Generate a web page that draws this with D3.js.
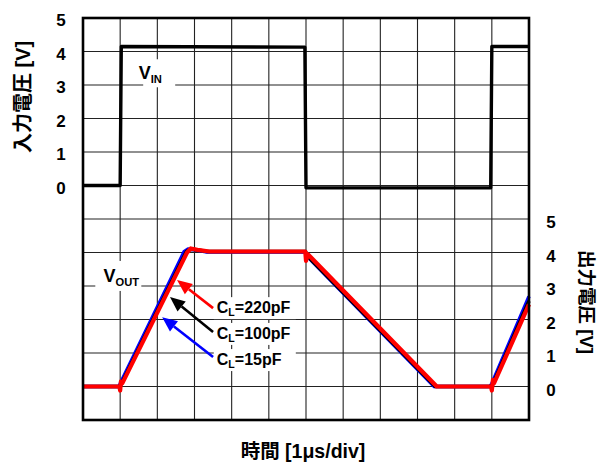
<!DOCTYPE html>
<html><head><meta charset="utf-8">
<script src="https://cdn.jsdelivr.net/npm/d3@7"></script>
<style>
body{margin:0;background:#fff;}
svg{display:block;}
text{font-family:"Liberation Sans",Arial,"Noto Sans CJK JP",sans-serif;font-weight:bold;fill:#000;}
</style></head>
<body><svg id="c" width="601" height="464"></svg>
<script>
// ---- data ----
const inTickLabels = [0, 1, 2, 3, 4, 5];
const outTickLabels = [0, 1, 2, 3, 4, 5];
const vinT = [0, 1.0, 1.03, 5.97, 6.0, 10.97, 11.0, 12];
const vinV = [0, 0, 4.15, 4.13, -0.07, -0.07, 4.15, 4.15];
const v15T = [0, 0.97, 1.0, 2.72, 2.82, 3.0, 3.3, 5.98, 6.02, 9.45, 10.95, 11.0, 12];
const v15V = [0, 0, 0.08, 4.02, 4.1, 4.08, 4.02, 4.02, 3.9, 0, 0, 0.08, 2.69];
const v100T = [0, 0.98, 1.02, 2.78, 2.88, 3.05, 3.35, 5.99, 6.03, 9.48, 10.97, 11.02, 12];
const v100V = [0, 0, 0.05, 4.02, 4.1, 4.08, 4.03, 4.03, 3.9, 0, 0, 0.05, 2.55];
const v220T = [0, 0.98, 1.0, 1.02, 1.06, 2.8, 2.9, 3.08, 3.4, 5.98, 6.0, 6.05, 9.52, 10.98, 11.0, 11.03, 11.06, 12];
const v220V = [0, 0, -0.12, 0.15, 0.1, 4.0, 4.12, 4.08, 4.03, 4.03, 3.75, 3.95, 0, 0, -0.12, 0.2, 0.1, 2.45];
const seriesNames = ["15pF", "100pF", "220pF"];
const seriesColors = ["#0000ff", "#000000", "#ff0000"];

// ---- layout ----
const L = 83, R = 529, T = 18, B = 420;
const svg = d3.select("#c");
const x = d3.scaleLinear().domain([0, 12]).range([L, R]);
const yIn = d3.scaleLinear().domain([-7, 5]).range([B, T]);
const yOut = d3.scaleLinear().domain([-1, 11]).range([B, T]);

// grid
const g = svg.append("g");
g.selectAll("line.v").data(d3.range(1, 12)).join("line")
  .attr("x1", d => x(d)).attr("x2", d => x(d)).attr("y1", T).attr("y2", B)
  .attr("stroke", "#222").attr("stroke-width", 1.1);
g.selectAll("line.h").data(d3.range(0, 11)).join("line")
  .attr("y1", d => yOut(d)).attr("y2", d => yOut(d)).attr("x1", L).attr("x2", R)
  .attr("stroke", "#222").attr("stroke-width", 1.1);

// label backgrounds (white boxes over grid)
function labelBox(cx, cy, w, h) {
  svg.append("rect").attr("x", cx - w / 2).attr("y", cy - h / 2).attr("width", w).attr("height", h).attr("fill", "#fff");
}
labelBox(x(2.05), yIn(3.35), 32, 28);
labelBox(x(0.95), yOut(3.3), 46, 30);

// lines
const line = d3.line();
svg.append("path")
  .attr("d", line(vinT.map((t, i) => [x(t), yIn(vinV[i])])))
  .attr("fill", "none").attr("stroke", "#000").attr("stroke-width", 3.4).attr("stroke-linejoin", "round");

const outSeries = [[v15T, v15V], [v100T, v100V], [v220T, v220V]];
outSeries.forEach((s, k) => {
  svg.append("path")
    .attr("d", line(s[0].map((t, i) => [x(t), yOut(s[1][i])])))
    .attr("fill", "none").attr("stroke", seriesColors[k])
    .attr("stroke-width", k === 2 ? 4.2 : 3.6).attr("stroke-linejoin", "round");
});

// frame
svg.append("rect").attr("x", L).attr("y", T).attr("width", R - L).attr("height", B - T)
  .attr("fill", "none").attr("stroke", "#000").attr("stroke-width", 2.6);

// VIN / VOUT labels
function subLabel(px, py, main, sub, size) {
  const t = svg.append("text").attr("x", px).attr("y", py).attr("font-size", size);
  t.append("tspan").text(main);
  t.append("tspan").text(sub).attr("font-size", size * 0.62).attr("dy", size * 0.2);
}
subLabel(x(1.5), yIn(3.35) + 6, "V", "IN", 18);
subLabel(x(0.55), yOut(3.3) + 6, "V", "OUT", 18);

// annotations: arrows and CL labels (in data units: time, output volts)
const arrowTail = [[3.5, 0.88], [3.5, 1.63], [3.5, 2.34]];
const arrowTip = [[2.13, 2.07], [2.34, 2.67], [2.53, 3.18]];
const labelPos = [[3.6, 0.64], [3.6, 1.42], [3.6, 2.19]];
[2, 1, 0].forEach(k => {
  labelBox(x(labelPos[k][0]) + 38, yOut(labelPos[k][1]) - 5, 82, 22);
});
[0, 1, 2].forEach(k => {
  const x1 = x(arrowTail[k][0]), y1 = yOut(arrowTail[k][1]);
  const x2 = x(arrowTip[k][0]), y2 = yOut(arrowTip[k][1]);
  const ang = Math.atan2(y2 - y1, x2 - x1);
  const hl = 15, hw = 6.5;
  const bx = x2 - hl * Math.cos(ang), by = y2 - hl * Math.sin(ang);
  svg.append("line").attr("x1", x1).attr("y1", y1).attr("x2", bx).attr("y2", by)
    .attr("stroke", seriesColors[k]).attr("stroke-width", 2.6);
  const px = -Math.sin(ang), py = Math.cos(ang);
  svg.append("path")
    .attr("d", `M${x2},${y2}L${bx + px * hw},${by + py * hw}L${bx - px * hw},${by - py * hw}Z`)
    .attr("fill", seriesColors[k]);
  const t = svg.append("text").attr("x", x(labelPos[k][0])).attr("y", yOut(labelPos[k][1])).attr("font-size", 16);
  t.append("tspan").text("C");
  t.append("tspan").text("L").attr("font-size", 10.5).attr("dy", 3);
  t.append("tspan").text("=" + seriesNames[k]).attr("dy", -3);
});

// tick labels
svg.selectAll("text.lt").data(inTickLabels).join("text")
  .attr("x", 61).attr("y", d => yIn(d) + 8).attr("text-anchor", "middle").attr("font-size", 17)
  .text(d => d);
svg.selectAll("text.rt").data(outTickLabels).join("text")
  .attr("x", 551).attr("y", d => yOut(d) + 9).attr("text-anchor", "middle").attr("font-size", 17)
  .text(d => d);

// axis titles
svg.append("text").attr("transform", "translate(23,97) rotate(-90)")
  .attr("text-anchor", "middle").attr("dominant-baseline", "central").attr("font-size", 20)
  .text("入力電圧 [V]");
svg.append("text").attr("transform", "translate(586,302) rotate(90)")
  .attr("text-anchor", "middle").attr("dominant-baseline", "central").attr("font-size", 18.5)
  .text("出力電圧 [V]");
svg.append("text").attr("x", 303).attr("y", 458).attr("text-anchor", "middle").attr("font-size", 19.5)
  .text("時間 [1μs/div]");
</script></body></html>
